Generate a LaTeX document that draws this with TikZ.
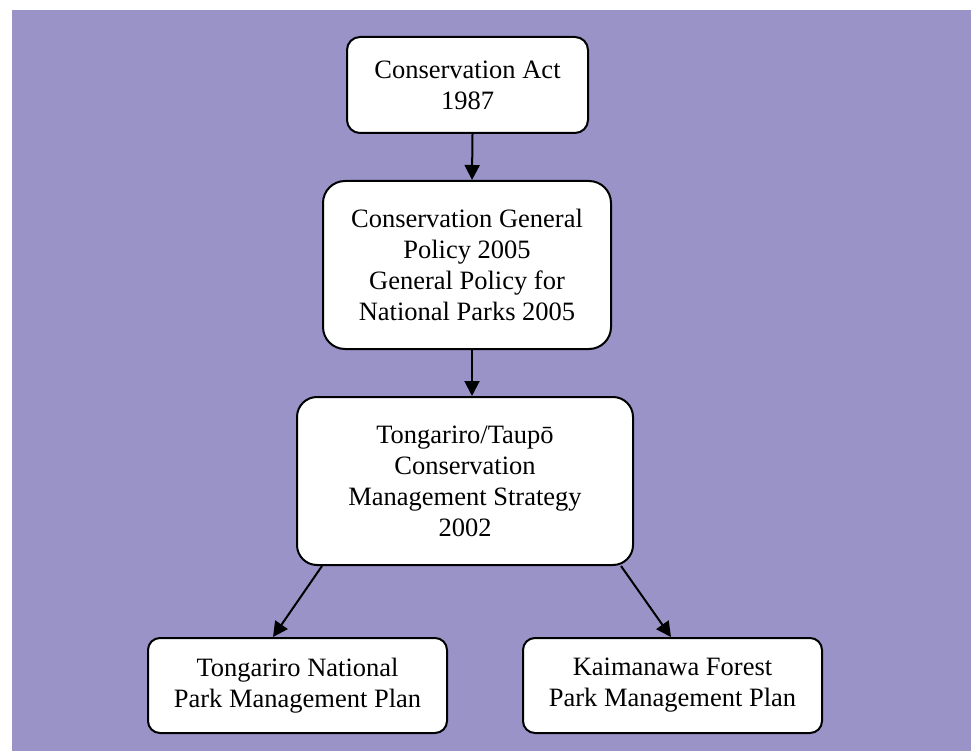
\documentclass[tikz,border=0pt]{standalone}
\usepackage{fontspec}
\setmainfont{Liberation Serif}
\usetikzlibrary{arrows.meta}
\definecolor{bgpurple}{RGB}{154,147,199}
\tikzset{
  box/.style={draw=black, line width=2pt, fill=white, align=center, inner sep=0pt,
    font=\fontsize{26.5}{31}\selectfont},
  arr/.style={draw=black, line width=2pt, -{Triangle[width=15pt,length=15pt]}}
}
\begin{document}
\begin{tikzpicture}[x=1pt,y=-1pt]
\useasboundingbox (0,0) rectangle (971,751);
\fill[bgpurple] (12,10) rectangle (971,751);
\node[box, rounded corners=13pt, minimum width=241pt, minimum height=96pt] (b1) at (467.5,85) {Conservation Act\\1987};
\node[box, rounded corners=22pt, minimum width=288pt, minimum height=168pt] (b2) at (467,265) {Conservation General\\Policy 2005\\General Policy for\\National Parks 2005};
\node[box, rounded corners=20pt, minimum width=336pt, minimum height=168pt] (b3) at (465,481) {Tongariro/Taupō\\Conservation\\Management Strategy\\2002};
\node[box, rounded corners=12pt, minimum width=299pt, minimum height=95pt] (b4) at (297.5,685.5) {Tongariro National\\Park Management Plan};
\node[box, rounded corners=12pt, minimum width=299pt, minimum height=95pt] (b5) at (672.5,685.5) {Kaimanawa Forest\\Park Management Plan};
\draw[arr] ([xshift=5pt]b1.south) -- ([xshift=5pt]b2.north);
\draw[arr] ([xshift=5pt]b2.south) -- ([xshift=7pt]b3.north);
\draw[arr] ([xshift=-143pt]b3.south) -- ([xshift=-24.5pt]b4.north);
\draw[arr] ([xshift=156pt]b3.south) -- ([xshift=-1.5pt]b5.north);
\end{tikzpicture}
\end{document}
